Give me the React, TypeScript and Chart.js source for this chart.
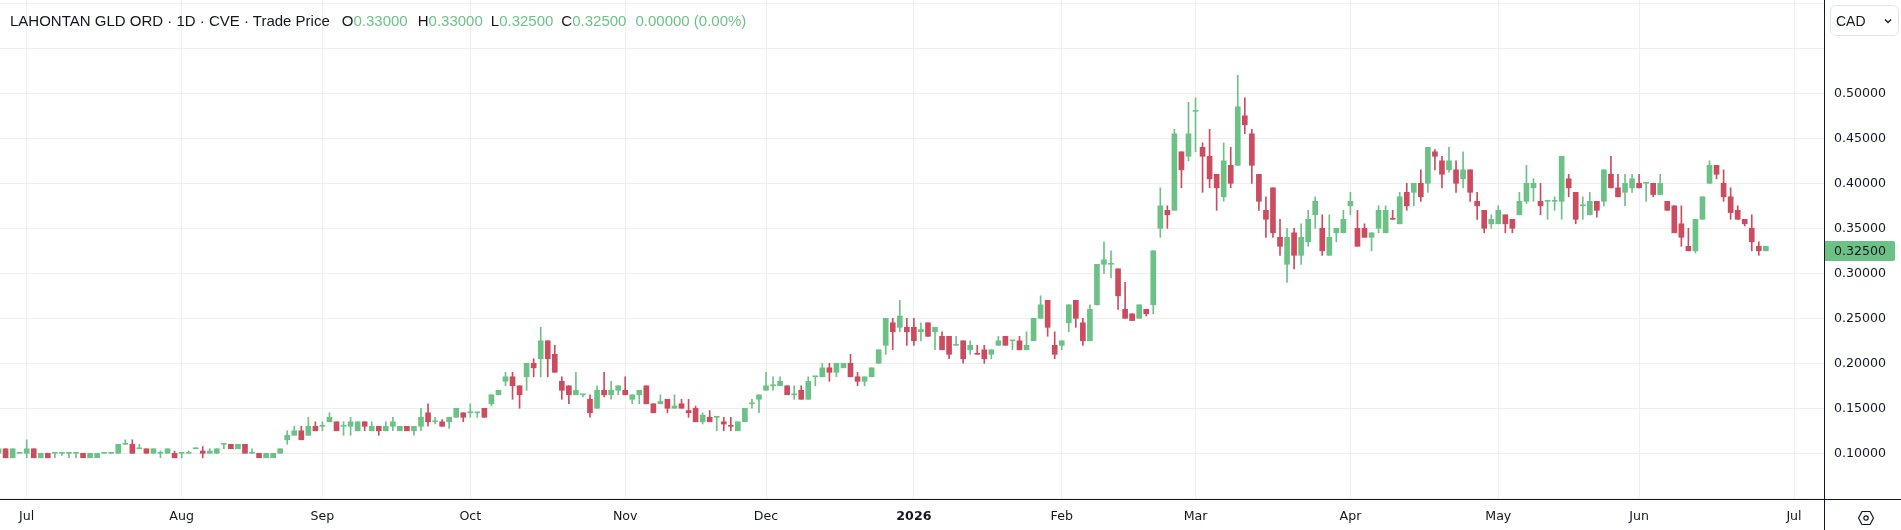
import { useEffect, useRef } from "react";
import { Chart, registerables } from "chart.js";

Chart.register(...registerables);

// trading-day index of the first session of each month (TSXV calendar)
const monthLabels = ["Jul", "Aug", "Sep", "Oct", "Nov", "Dec", "2026", "Feb", "Mar", "Apr", "May", "Jun", "Jul"];
const monthStarts = [4, 26, 46, 67, 89, 109, 130, 151, 170, 192, 213, 233, 255];

const priceTicks = [0.05, 0.1, 0.15, 0.2, 0.25, 0.3, 0.35, 0.4, 0.45, 0.5, 0.55, 0.6];
const lastPrice = 0.325;

// daily candles, 25 Jun 2025 .. 25 Jun 2026
const opens = [
  0.1, 0.105, 0.095, 0.1, 0.1, 0.105, 0.095, 0.1, 0.1, 0.1, 0.1, 0.1, 0.1, 0.095, 0.095, 0.1, 0.1, 0.1, 0.11, 0.11,
  0.105, 0.105, 0.1, 0.1, 0.1, 0.1, 0.1, 0.1, 0.105, 0.1025, 0.1, 0.1, 0.11, 0.11, 0.105, 0.11, 0.1, 0.1, 0.095, 0.095,
  0.1, 0.115, 0.12, 0.125, 0.12, 0.13, 0.13, 0.135, 0.135, 0.13, 0.13, 0.125, 0.135, 0.125, 0.13, 0.125, 0.13, 0.125, 0.13, 0.125,
  0.13, 0.145, 0.135, 0.135, 0.135, 0.14, 0.145, 0.145, 0.145, 0.15, 0.155, 0.165, 0.18, 0.185, 0.175, 0.185, 0.2, 0.205, 0.225, 0.21,
  0.18, 0.175, 0.165, 0.165, 0.16, 0.15, 0.17, 0.165, 0.17, 0.17, 0.16, 0.165, 0.175, 0.155, 0.155, 0.16, 0.15, 0.155, 0.1475, 0.15,
  0.135, 0.14, 0.14, 0.135, 0.1305, 0.125, 0.135, 0.155, 0.16, 0.17, 0.175, 0.175, 0.175, 0.165, 0.17, 0.16, 0.185, 0.185, 0.195, 0.19,
  0.195, 0.2, 0.185, 0.18, 0.185, 0.2, 0.22, 0.245, 0.24, 0.24, 0.24, 0.235, 0.245, 0.235, 0.23, 0.23, 0.22, 0.225, 0.215, 0.2105,
  0.215, 0.21, 0.22, 0.23, 0.225, 0.225, 0.215, 0.225, 0.25, 0.27, 0.22, 0.22, 0.245, 0.27, 0.245, 0.225, 0.265, 0.31, 0.31, 0.305,
  0.26, 0.255, 0.25, 0.26, 0.265, 0.35, 0.37, 0.37, 0.435, 0.43, 0.48, 0.44, 0.43, 0.41, 0.385, 0.42, 0.42, 0.475, 0.455, 0.41,
  0.37, 0.395, 0.34, 0.31, 0.345, 0.32, 0.335, 0.365, 0.35, 0.32, 0.345, 0.345, 0.375, 0.35, 0.35, 0.34, 0.35, 0.345, 0.3605, 0.355,
  0.39, 0.39, 0.4, 0.4, 0.435, 0.425, 0.415, 0.415, 0.405, 0.415, 0.38, 0.37, 0.355, 0.355, 0.365, 0.36, 0.365, 0.38, 0.395, 0.38,
  0.38, 0.38, 0.38, 0.405, 0.39, 0.375, 0.365, 0.38, 0.38, 0.41, 0.395, 0.39, 0.395, 0.4, 0.4, 0.4, 0.3875, 0.38, 0.375, 0.355,
  0.33, 0.325, 0.36, 0.4, 0.42, 0.4, 0.385, 0.37, 0.36, 0.35, 0.33, 0.325,
];
const highs = [
  0.105, 0.105, 0.105, 0.1, 0.115, 0.105, 0.1, 0.1, 0.1, 0.1, 0.1, 0.1, 0.1, 0.1, 0.1, 0.1, 0.1, 0.11, 0.115, 0.115,
  0.11, 0.105, 0.105, 0.1025, 0.105, 0.1025, 0.1, 0.1025, 0.105, 0.1075, 0.105, 0.105, 0.11, 0.11, 0.11, 0.11, 0.105, 0.1, 0.1, 0.1,
  0.105, 0.125, 0.13, 0.13, 0.14, 0.135, 0.135, 0.145, 0.135, 0.135, 0.14, 0.135, 0.135, 0.135, 0.13, 0.135, 0.14, 0.13, 0.13, 0.13,
  0.15, 0.155, 0.14, 0.1375, 0.14, 0.15, 0.145, 0.155, 0.145, 0.15, 0.165, 0.17, 0.19, 0.19, 0.175, 0.2, 0.205, 0.24, 0.225, 0.22,
  0.185, 0.175, 0.19, 0.165, 0.165, 0.175, 0.19, 0.18, 0.175, 0.185, 0.165, 0.17, 0.175, 0.155, 0.165, 0.16, 0.165, 0.16, 0.16, 0.1525,
  0.145, 0.1475, 0.14, 0.14, 0.14, 0.135, 0.15, 0.16, 0.165, 0.19, 0.185, 0.185, 0.175, 0.175, 0.175, 0.185, 0.185, 0.2, 0.2, 0.2,
  0.2, 0.21, 0.19, 0.185, 0.195, 0.215, 0.25, 0.25, 0.27, 0.25, 0.25, 0.245, 0.245, 0.24, 0.235, 0.23, 0.23, 0.225, 0.225, 0.22,
  0.22, 0.215, 0.23, 0.23, 0.225, 0.23, 0.235, 0.25, 0.275, 0.27, 0.235, 0.225, 0.265, 0.27, 0.25, 0.265, 0.31, 0.335, 0.325, 0.305,
  0.29, 0.255, 0.265, 0.26, 0.325, 0.395, 0.375, 0.46, 0.435, 0.49, 0.495, 0.445, 0.46, 0.41, 0.445, 0.44, 0.52, 0.495, 0.46, 0.41,
  0.385, 0.395, 0.36, 0.35, 0.35, 0.355, 0.37, 0.385, 0.365, 0.365, 0.35, 0.37, 0.39, 0.37, 0.355, 0.345, 0.375, 0.375, 0.37, 0.39,
  0.4, 0.4, 0.415, 0.44, 0.4375, 0.43, 0.44, 0.425, 0.435, 0.415, 0.39, 0.37, 0.365, 0.375, 0.365, 0.36, 0.39, 0.42, 0.405, 0.4,
  0.38, 0.385, 0.43, 0.41, 0.39, 0.385, 0.39, 0.38, 0.415, 0.43, 0.41, 0.41, 0.41, 0.41, 0.4, 0.4, 0.41, 0.38, 0.375, 0.375,
  0.35, 0.36, 0.385, 0.425, 0.42, 0.415, 0.395, 0.375, 0.36, 0.365, 0.335, 0.33,
];
const lows = [
  0.1, 0.095, 0.095, 0.1, 0.095, 0.095, 0.095, 0.095, 0.095, 0.0975, 0.095, 0.095, 0.095, 0.095, 0.095, 0.1, 0.1, 0.1, 0.11, 0.1,
  0.105, 0.1, 0.1, 0.095, 0.1, 0.095, 0.095, 0.1, 0.105, 0.095, 0.1, 0.1, 0.105, 0.105, 0.105, 0.1, 0.1, 0.095, 0.095, 0.095,
  0.1, 0.11, 0.12, 0.115, 0.12, 0.125, 0.125, 0.135, 0.125, 0.12, 0.12, 0.125, 0.125, 0.125, 0.12, 0.125, 0.125, 0.125, 0.125, 0.12,
  0.125, 0.13, 0.1325, 0.13, 0.1275, 0.14, 0.135, 0.14, 0.14, 0.14, 0.1525, 0.165, 0.175, 0.16, 0.15, 0.17, 0.185, 0.185, 0.185, 0.19,
  0.16, 0.155, 0.165, 0.1625, 0.14, 0.15, 0.1625, 0.16, 0.165, 0.165, 0.155, 0.155, 0.155, 0.145, 0.155, 0.145, 0.15, 0.15, 0.14, 0.135,
  0.1325, 0.135, 0.125, 0.125, 0.125, 0.125, 0.135, 0.15, 0.145, 0.17, 0.17, 0.175, 0.165, 0.16, 0.16, 0.16, 0.175, 0.185, 0.18, 0.185,
  0.195, 0.185, 0.175, 0.175, 0.185, 0.2, 0.21, 0.215, 0.235, 0.22, 0.22, 0.225, 0.23, 0.215, 0.215, 0.205, 0.22, 0.2, 0.21, 0.21,
  0.2, 0.205, 0.22, 0.22, 0.215, 0.215, 0.215, 0.225, 0.25, 0.23, 0.205, 0.215, 0.235, 0.24, 0.22, 0.225, 0.265, 0.3, 0.295, 0.26,
  0.25, 0.2475, 0.25, 0.2525, 0.255, 0.34, 0.35, 0.37, 0.395, 0.425, 0.435, 0.39, 0.395, 0.37, 0.38, 0.395, 0.42, 0.455, 0.4, 0.37,
  0.34, 0.34, 0.32, 0.29, 0.305, 0.31, 0.33, 0.35, 0.32, 0.32, 0.335, 0.345, 0.365, 0.33, 0.34, 0.325, 0.345, 0.345, 0.36, 0.355,
  0.37, 0.375, 0.38, 0.39, 0.415, 0.395, 0.4125, 0.39, 0.395, 0.38, 0.36, 0.345, 0.35, 0.355, 0.345, 0.345, 0.365, 0.3775, 0.38, 0.365,
  0.36, 0.37, 0.36, 0.385, 0.355, 0.36, 0.365, 0.3625, 0.375, 0.395, 0.385, 0.375, 0.39, 0.395, 0.38, 0.385, 0.3875, 0.37, 0.345, 0.33,
  0.325, 0.3225, 0.36, 0.4, 0.405, 0.38, 0.36, 0.36, 0.3525, 0.325, 0.32, 0.325,
];
const closes = [
  0.105, 0.095, 0.105, 0.1, 0.105, 0.095, 0.1, 0.095, 0.1, 0.1, 0.1, 0.1, 0.095, 0.1, 0.1, 0.1, 0.1, 0.11, 0.11, 0.1,
  0.105, 0.1, 0.105, 0.1, 0.105, 0.095, 0.1, 0.1, 0.105, 0.1, 0.1025, 0.105, 0.11, 0.105, 0.11, 0.1, 0.1, 0.095, 0.1, 0.1,
  0.105, 0.12, 0.125, 0.115, 0.13, 0.125, 0.13, 0.14, 0.125, 0.13, 0.135, 0.135, 0.13, 0.13, 0.125, 0.13, 0.135, 0.13, 0.125, 0.13,
  0.14, 0.135, 0.135, 0.13, 0.14, 0.15, 0.14, 0.145, 0.145, 0.14, 0.165, 0.17, 0.185, 0.175, 0.165, 0.2, 0.195, 0.225, 0.205, 0.19,
  0.17, 0.165, 0.17, 0.165, 0.145, 0.17, 0.165, 0.17, 0.175, 0.165, 0.165, 0.17, 0.155, 0.145, 0.1575, 0.15, 0.1525, 0.15, 0.145, 0.135,
  0.1425, 0.135, 0.14, 0.1325, 0.13, 0.135, 0.15, 0.155, 0.165, 0.175, 0.175, 0.18, 0.165, 0.165, 0.16, 0.18, 0.185, 0.195, 0.19, 0.2,
  0.2, 0.185, 0.18, 0.185, 0.195, 0.215, 0.25, 0.235, 0.2525, 0.235, 0.225, 0.2375, 0.23, 0.24, 0.215, 0.21, 0.22, 0.205, 0.22, 0.21,
  0.205, 0.215, 0.225, 0.22, 0.225, 0.215, 0.22, 0.25, 0.265, 0.24, 0.21, 0.225, 0.265, 0.25, 0.225, 0.26, 0.31, 0.315, 0.31, 0.275,
  0.25, 0.2475, 0.265, 0.255, 0.325, 0.375, 0.365, 0.455, 0.415, 0.455, 0.48, 0.43, 0.405, 0.395, 0.425, 0.4, 0.485, 0.465, 0.42, 0.38,
  0.36, 0.345, 0.33, 0.34, 0.32, 0.34, 0.36, 0.38, 0.325, 0.34, 0.35, 0.36, 0.38, 0.33, 0.34, 0.345, 0.37, 0.37, 0.36, 0.385,
  0.375, 0.4, 0.385, 0.44, 0.43, 0.41, 0.425, 0.4, 0.415, 0.39, 0.375, 0.35, 0.36, 0.37, 0.355, 0.35, 0.38, 0.4, 0.4, 0.375,
  0.38, 0.38, 0.43, 0.395, 0.36, 0.375, 0.38, 0.37, 0.415, 0.395, 0.385, 0.4, 0.405, 0.395, 0.4, 0.3875, 0.4, 0.37, 0.345, 0.34,
  0.325, 0.36, 0.385, 0.42, 0.41, 0.385, 0.3675, 0.36, 0.355, 0.335, 0.325, 0.33,
];

const UP = "#6cc286";
const DOWN = "#cd4b5f";
const TEXT = "#131722";
const GRID = "#efefef";
const AXIS_FONT = "'DejaVu Sans', sans-serif";
const UI_FONT = "'Liberation Sans', Arial, sans-serif";

const frameLines = {
  id: "frameLines",
  afterDraw(chart: Chart) {
    const { ctx, chartArea, width, height } = chart;
    ctx.save();
    ctx.fillStyle = TEXT;
    ctx.fillRect(Math.round(chartArea.right), 0, 1, height);
    ctx.fillRect(0, Math.round(chartArea.bottom), width, 1);
    ctx.restore();
  },
};

const priceTag = {
  id: "priceTag",
  afterDraw(chart: Chart) {
    const { ctx, chartArea } = chart;
    const y = Math.round(chart.scales.y.getPixelForValue(lastPrice));
    ctx.save();
    ctx.fillStyle = UP;
    ctx.beginPath();
    ctx.roundRect(chartArea.right + 1, y - 10, 70, 20, [0, 2, 2, 0]);
    ctx.fill();
    ctx.fillStyle = TEXT;
    ctx.font = `12.6px ${AXIS_FONT}`;
    ctx.textBaseline = "middle";
    ctx.fillText(lastPrice.toFixed(5), chartArea.right + 10, y + 1);
    ctx.restore();
  },
};

function CandleChart() {
  const canvasRef = useRef<HTMLCanvasElement | null>(null);
  const chartRef = useRef<Chart | null>(null);

  useEffect(() => {
    document.body.style.margin = "0";
    if (chartRef.current) chartRef.current.destroy();
    const ctx = canvasRef.current?.getContext("2d");
    if (!ctx) return;

    const colors = opens.map((o, i) => (closes[i] >= o ? UP : DOWN));
    const wicks = opens.map((_, i) => ({ x: i, y: [lows[i], highs[i]] }));
    const bodies = opens.map((o, i) => ({ x: i, y: [Math.min(o, closes[i]), Math.max(o, closes[i])] }));

    chartRef.current = new Chart(ctx, {
      type: "bar",
      data: {
        datasets: [
          {
            data: bodies as any,
            backgroundColor: colors,
            barThickness: 5,
            minBarLength: 1,
            borderWidth: 0,
            borderSkipped: false,
            grouped: false,
            order: 0,
          },
          {
            data: wicks as any,
            backgroundColor: colors,
            barThickness: 1,
            minBarLength: 1,
            borderWidth: 0,
            borderSkipped: false,
            grouped: false,
            order: 1,
          },
        ],
      },
      options: {
        responsive: false,
        animation: false,
        events: [],
        layout: { padding: 0 },
        plugins: { legend: { display: false }, tooltip: { enabled: false } },
        scales: {
          x: {
            type: "linear",
            min: 0.207,
            max: 259.26,
            offset: false,
            border: { display: false },
            grid: { color: GRID, drawTicks: false, offset: false },
            afterBuildTicks: (scale: any) => {
              scale.ticks = monthStarts.map((v) => ({ value: v }));
            },
            afterFit: (scale: any) => {
              scale.height = 31;
              scale.paddingLeft = 0;
              scale.paddingRight = 0;
            },
            ticks: {
              autoSkip: false,
              maxRotation: 0,
              padding: 10,
              color: TEXT,
              font: (c: any) => ({
                family: AXIS_FONT,
                size: 12.6,
                weight: c.tick && c.tick.value === 130 ? "bold" : "normal",
              }),
              callback: (v: any) => {
                const k = monthStarts.indexOf(Number(v));
                return k >= 0 ? monthLabels[k] : "";
              },
            },
          },
          y: {
            type: "linear",
            position: "right",
            min: 0.0492,
            max: 0.6037,
            border: { display: false },
            grid: { color: GRID, drawTicks: false },
            afterBuildTicks: (scale: any) => {
              scale.ticks = priceTicks.map((v) => ({ value: v }));
            },
            afterFit: (scale: any) => {
              scale.width = 77;
              scale.paddingTop = 0;
              scale.paddingBottom = 0;
            },
            ticks: {
              padding: 10,
              color: TEXT,
              font: { family: AXIS_FONT, size: 12.6 },
              callback: (v: any) => {
                const n = Number(v);
                return n >= 0.099 && n <= 0.501 ? n.toFixed(5) : "";
              },
            },
          },
        },
      },
      plugins: [frameLines, priceTag],
    });

    return () => {
      if (chartRef.current) {
        chartRef.current.destroy();
        chartRef.current = null;
      }
    };
  }, []);

  return <canvas ref={canvasRef} width={1901} height={530} style={{ width: "1901px", height: "530px", display: "block" }} />;
}

const green = { color: UP };

export default function App() {
  return (
    <div style={{ position: "relative", width: 1901, height: 530, background: "#fff", fontFamily: UI_FONT, color: TEXT }}>
      <CandleChart />
      <div style={{ position: "absolute", left: 10, top: 12, fontSize: 15, whiteSpace: "pre", lineHeight: "18px" }}>
        <span>LAHONTAN GLD ORD · 1D · CVE · Trade Price</span>
        <span style={{ marginLeft: 12 }}>O</span>
        <span style={green}>0.33000</span>
        <span style={{ marginLeft: 10 }}>H</span>
        <span style={green}>0.33000</span>
        <span style={{ marginLeft: 8 }}>L</span>
        <span style={green}>0.32500</span>
        <span style={{ marginLeft: 8 }}>C</span>
        <span style={green}>0.32500</span>
        <span style={{ ...green, marginLeft: 9 }}>0.00000 (0.00%)</span>
      </div>
      <div
        style={{
          position: "absolute",
          left: 1830,
          top: 5,
          width: 69,
          height: 31,
          boxSizing: "border-box",
          border: "1px solid #e0e3eb",
          borderRadius: 6,
          fontSize: 14,
          display: "flex",
          alignItems: "center",
          justifyContent: "space-between",
          padding: "0 6px 0 5px",
        }}
      >
        <span>CAD</span>
        <svg width="8" height="6" viewBox="0 0 8 6">
          <path d="M1 1.5 L4 4.5 L7 1.5" fill="none" stroke={TEXT} strokeWidth="1.3" />
        </svg>
      </div>
      <svg style={{ position: "absolute", left: 1857, top: 509 }} width="18" height="18" viewBox="0 0 18 18">
        <path d="M5 2.5 L13 2.5 L16.5 9 L13 15.5 L5 15.5 L1.5 9 Z" fill="none" stroke={TEXT} strokeWidth="1.2" strokeLinejoin="round" />
        <circle cx="9" cy="9" r="2.2" fill="none" stroke={TEXT} strokeWidth="1.2" />
      </svg>
    </div>
  );
}
